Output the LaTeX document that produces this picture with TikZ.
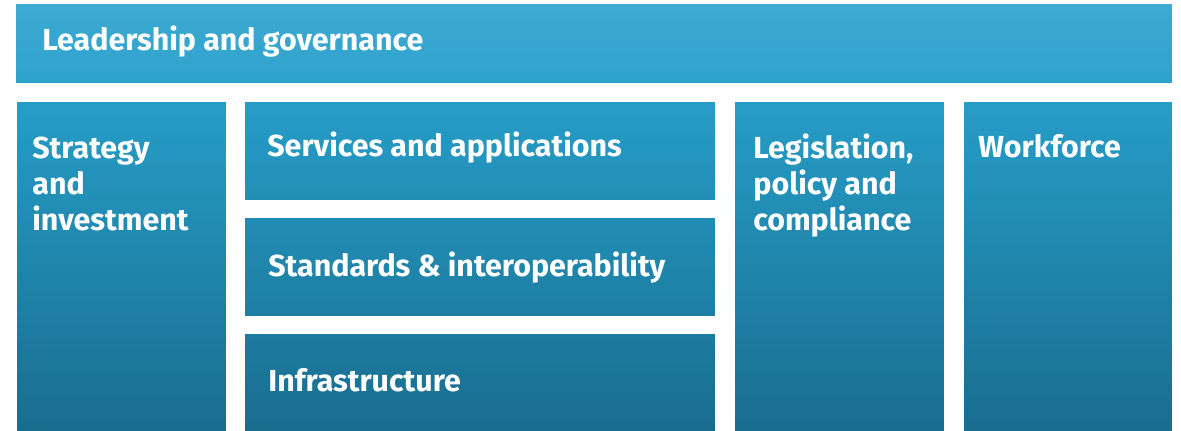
\documentclass[tikz,border=0pt]{standalone}
\usepackage{fontspec}
\setmainfont{Fira Sans}
\usepackage{tikz}

\definecolor{tiletop}{RGB}{60,170,210}
\definecolor{tilemid}{RGB}{38,157,199}
\definecolor{tilebot}{RGB}{25,109,143}

\tikzset{
  tile/.style={draw=none,inner sep=0pt,outer sep=0pt,anchor=north west},
  tiletext/.style={anchor=base west,inner sep=0pt,text=white,align=left,
    font=\bfseries\fontsize{17.3pt}{20.7pt}\selectfont}
}

\begin{document}
\begin{tikzpicture}[x=0.02cm,y=-0.02cm]
\useasboundingbox[fill=white] (0,0) rectangle (1181,431);
% boxes
\node (lead)  at (16,5)    [tile,minimum width=23.12cm,minimum height=1.56cm,top color=tiletop,bottom color=tilemid!60!tiletop] {};
\node (strat) at (17,103)  [tile,minimum width=4.18cm,minimum height=6.56cm,top color=tilemid,bottom color=tilebot] {};
\node (serv)  at (245,103) [tile,minimum width=9.40cm,minimum height=1.94cm,top color=tilemid,bottom color=tilebot!30!tilemid] {};
\node (stand) at (245,219) [tile,minimum width=9.40cm,minimum height=1.94cm,top color=tilebot!35!tilemid,bottom color=tilebot!65!tilemid] {};
\node (infra) at (245,335) [tile,minimum width=9.40cm,minimum height=1.92cm,top color=tilebot!71!tilemid,bottom color=tilebot] {};
\node (legis) at (735,103) [tile,minimum width=4.18cm,minimum height=6.56cm,top color=tilemid,bottom color=tilebot] {};
\node (work)  at (964,103) [tile,minimum width=4.16cm,minimum height=6.56cm,top color=tilemid,bottom color=tilebot] {};
% texts (base = last line)
\node (leadtxt)  at (42,51)   [tiletext] {Leadership and governance};
\node (strattxt) at (32,231)  [tiletext] {Strategy\\and\\investment};
\node (servtxt)  at (267,157) [tiletext] {Services and applications};
\node (standtxt) at (268,277) [tiletext] {Standards \& interoperability};
\node (infratxt) at (268,392) [tiletext] {Infrastructure};
\node (legistxt) at (753,231) [tiletext] {Legislation,\\policy and\\compliance};
\node (worktxt)  at (978,158) [tiletext] {Workforce};
\end{tikzpicture}
\end{document}
